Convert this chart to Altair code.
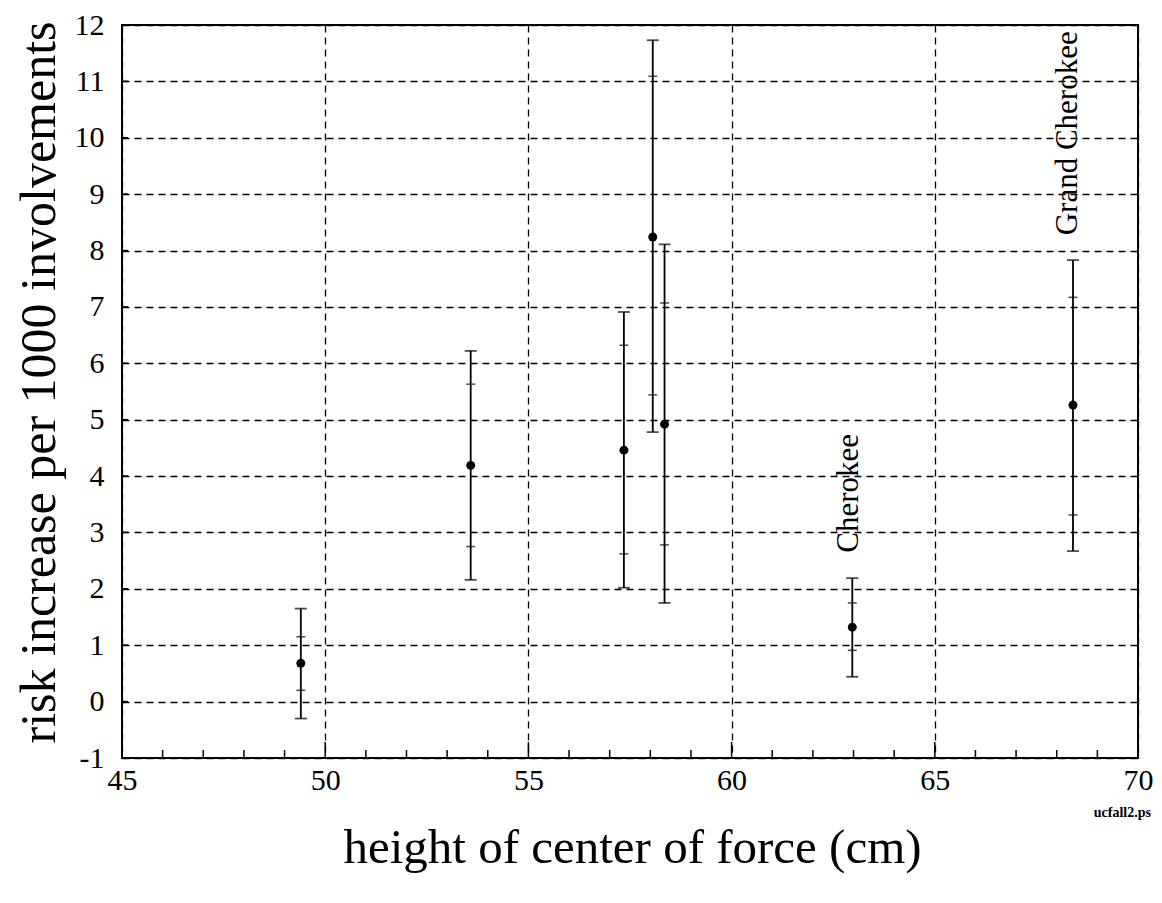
import altair as alt
import pandas as pd

# ---- data ----
heights = [49.40, 53.58, 57.35, 58.06, 58.35, 62.97, 68.40]
risk = [0.68, 4.19, 4.46, 8.24, 4.92, 1.32, 5.26]
outer_lo = [-0.30, 2.16, 2.02, 4.78, 1.75, 0.44, 2.67]
outer_hi = [1.65, 6.22, 6.91, 11.73, 8.11, 2.19, 7.83]
inner_lo = [0.20, 2.75, 2.62, 5.44, 2.78, 0.91, 3.31]
inner_hi = [1.15, 5.63, 6.32, 11.09, 7.07, 1.75, 7.17]

label_text = ["Cherokee", "Grand Cherokee"]
label_x = [62.89, 68.28]
label_y = [2.64, 8.27]

x_labels = [45, 50, 55, 60, 65, 70]
y_labels = list(range(-1, 13))
x_minor = [v for v in range(46, 70) if v % 5 != 0]
x_major = [50, 55, 60, 65]

FONT = "Liberation Serif"
W, H = 1016, 733

df = pd.DataFrame({"x": heights, "y": risk, "olo": outer_lo, "ohi": outer_hi,
                   "ilo": inner_lo, "ihi": inner_hi})

xs = alt.Scale(domain=[45, 70], nice=False, zero=False)
ys = alt.Scale(domain=[-1, 12], nice=False, zero=False)

xaxis = alt.Axis(values=x_labels, title="height of center of force (cm)",
                 labelExpr="'' + datum.value", labelFlush=False,
                 ticks=False, domain=False, labelPadding=7, labelFontSize=30,
                 labelFont=FONT, labelColor="black", titleFont=FONT, titleFontSize=49,
                 titleFontWeight="normal", titleColor="black", titleBaseline="alphabetic",
                 titleY=104, titleX=W / 2 + 2, grid=True, gridDash=[7, 5], gridColor="black",
                 gridWidth=1.3, gridOpacity=1)
yaxis = alt.Axis(values=y_labels, title="risk increase per 1000 involvements",
                 labelExpr="'' + datum.value", labelFlush=False,
                 ticks=False, domain=False, labelPadding=18, labelFontSize=30,
                 labelFont=FONT, labelColor="black", titleFont=FONT, titleFontSize=50,
                 titleFontWeight="normal", titleColor="black", titleBaseline="alphabetic",
                 titleX=-68, titleY=357, titleAngle=270, grid=True, gridDash=[7, 5],
                 gridColor="black", gridWidth=1.3, gridOpacity=1)

base = alt.Chart(df)

bars = base.mark_rule(color="black", strokeWidth=1.8).encode(
    x=alt.X("x:Q", scale=xs, axis=xaxis),
    y=alt.Y("olo:Q", scale=ys, axis=yaxis),
    y2="ohi:Q",
)
cap_lo = base.mark_tick(color="black", orient="horizontal", size=12, thickness=1.8).encode(
    x=alt.X("x:Q", scale=xs), y=alt.Y("olo:Q", scale=ys))
cap_hi = base.mark_tick(color="black", orient="horizontal", size=12, thickness=1.8).encode(
    x=alt.X("x:Q", scale=xs), y=alt.Y("ohi:Q", scale=ys))
in_lo = base.mark_tick(color="black", orient="horizontal", size=9, thickness=1.5).encode(
    x=alt.X("x:Q", scale=xs), y=alt.Y("ilo:Q", scale=ys))
in_hi = base.mark_tick(color="black", orient="horizontal", size=9, thickness=1.5).encode(
    x=alt.X("x:Q", scale=xs), y=alt.Y("ihi:Q", scale=ys))
dots = base.mark_circle(color="black", opacity=1, size=80).encode(
    x=alt.X("x:Q", scale=xs), y=alt.Y("y:Q", scale=ys))

labels = alt.Chart(pd.DataFrame({"t": label_text, "x": label_x, "y": label_y})).mark_text(
    angle=270, align="left", baseline="middle", font=FONT, fontSize=31, color="black"
).encode(x=alt.X("x:Q", scale=xs), y=alt.Y("y:Q", scale=ys), text="t:N")

minor_ticks = alt.Chart(pd.DataFrame({"x": x_minor})).mark_rule(
    color="black", strokeWidth=1.5).encode(
    x=alt.X("x:Q", scale=xs), y=alt.value(H - 8), y2=alt.value(H))
major_ticks = alt.Chart(pd.DataFrame({"x": x_major})).mark_rule(
    color="black", strokeWidth=1.5).encode(
    x=alt.X("x:Q", scale=xs), y=alt.value(H - 16), y2=alt.value(H))
y_tick_marks = alt.Chart(pd.DataFrame({"y": y_labels})).mark_rule(
    color="black", strokeWidth=1.5).encode(
    y=alt.Y("y:Q", scale=ys), x=alt.value(0), x2=alt.value(6))

note = alt.Chart(pd.DataFrame({"t": ["ucfall2.ps"]})).mark_text(
    font=FONT, fontSize=14, fontWeight="bold", color="black", align="right",
    baseline="middle").encode(text="t:N", x=alt.value(W + 13), y=alt.value(788))

chart = alt.layer(
    bars, cap_lo, cap_hi, in_lo, in_hi, dots, labels, minor_ticks, major_ticks,
    y_tick_marks, note
).properties(
    width=W, height=H,
    autosize=alt.AutoSizeParams(type="none"),
    padding={"left": 114, "top": 17, "right": 15, "bottom": 130},
    background="white",
).configure_view(stroke="black", strokeWidth=2)

chart.save("out.html", embed_options={"renderer": "svg", "actions": False})
